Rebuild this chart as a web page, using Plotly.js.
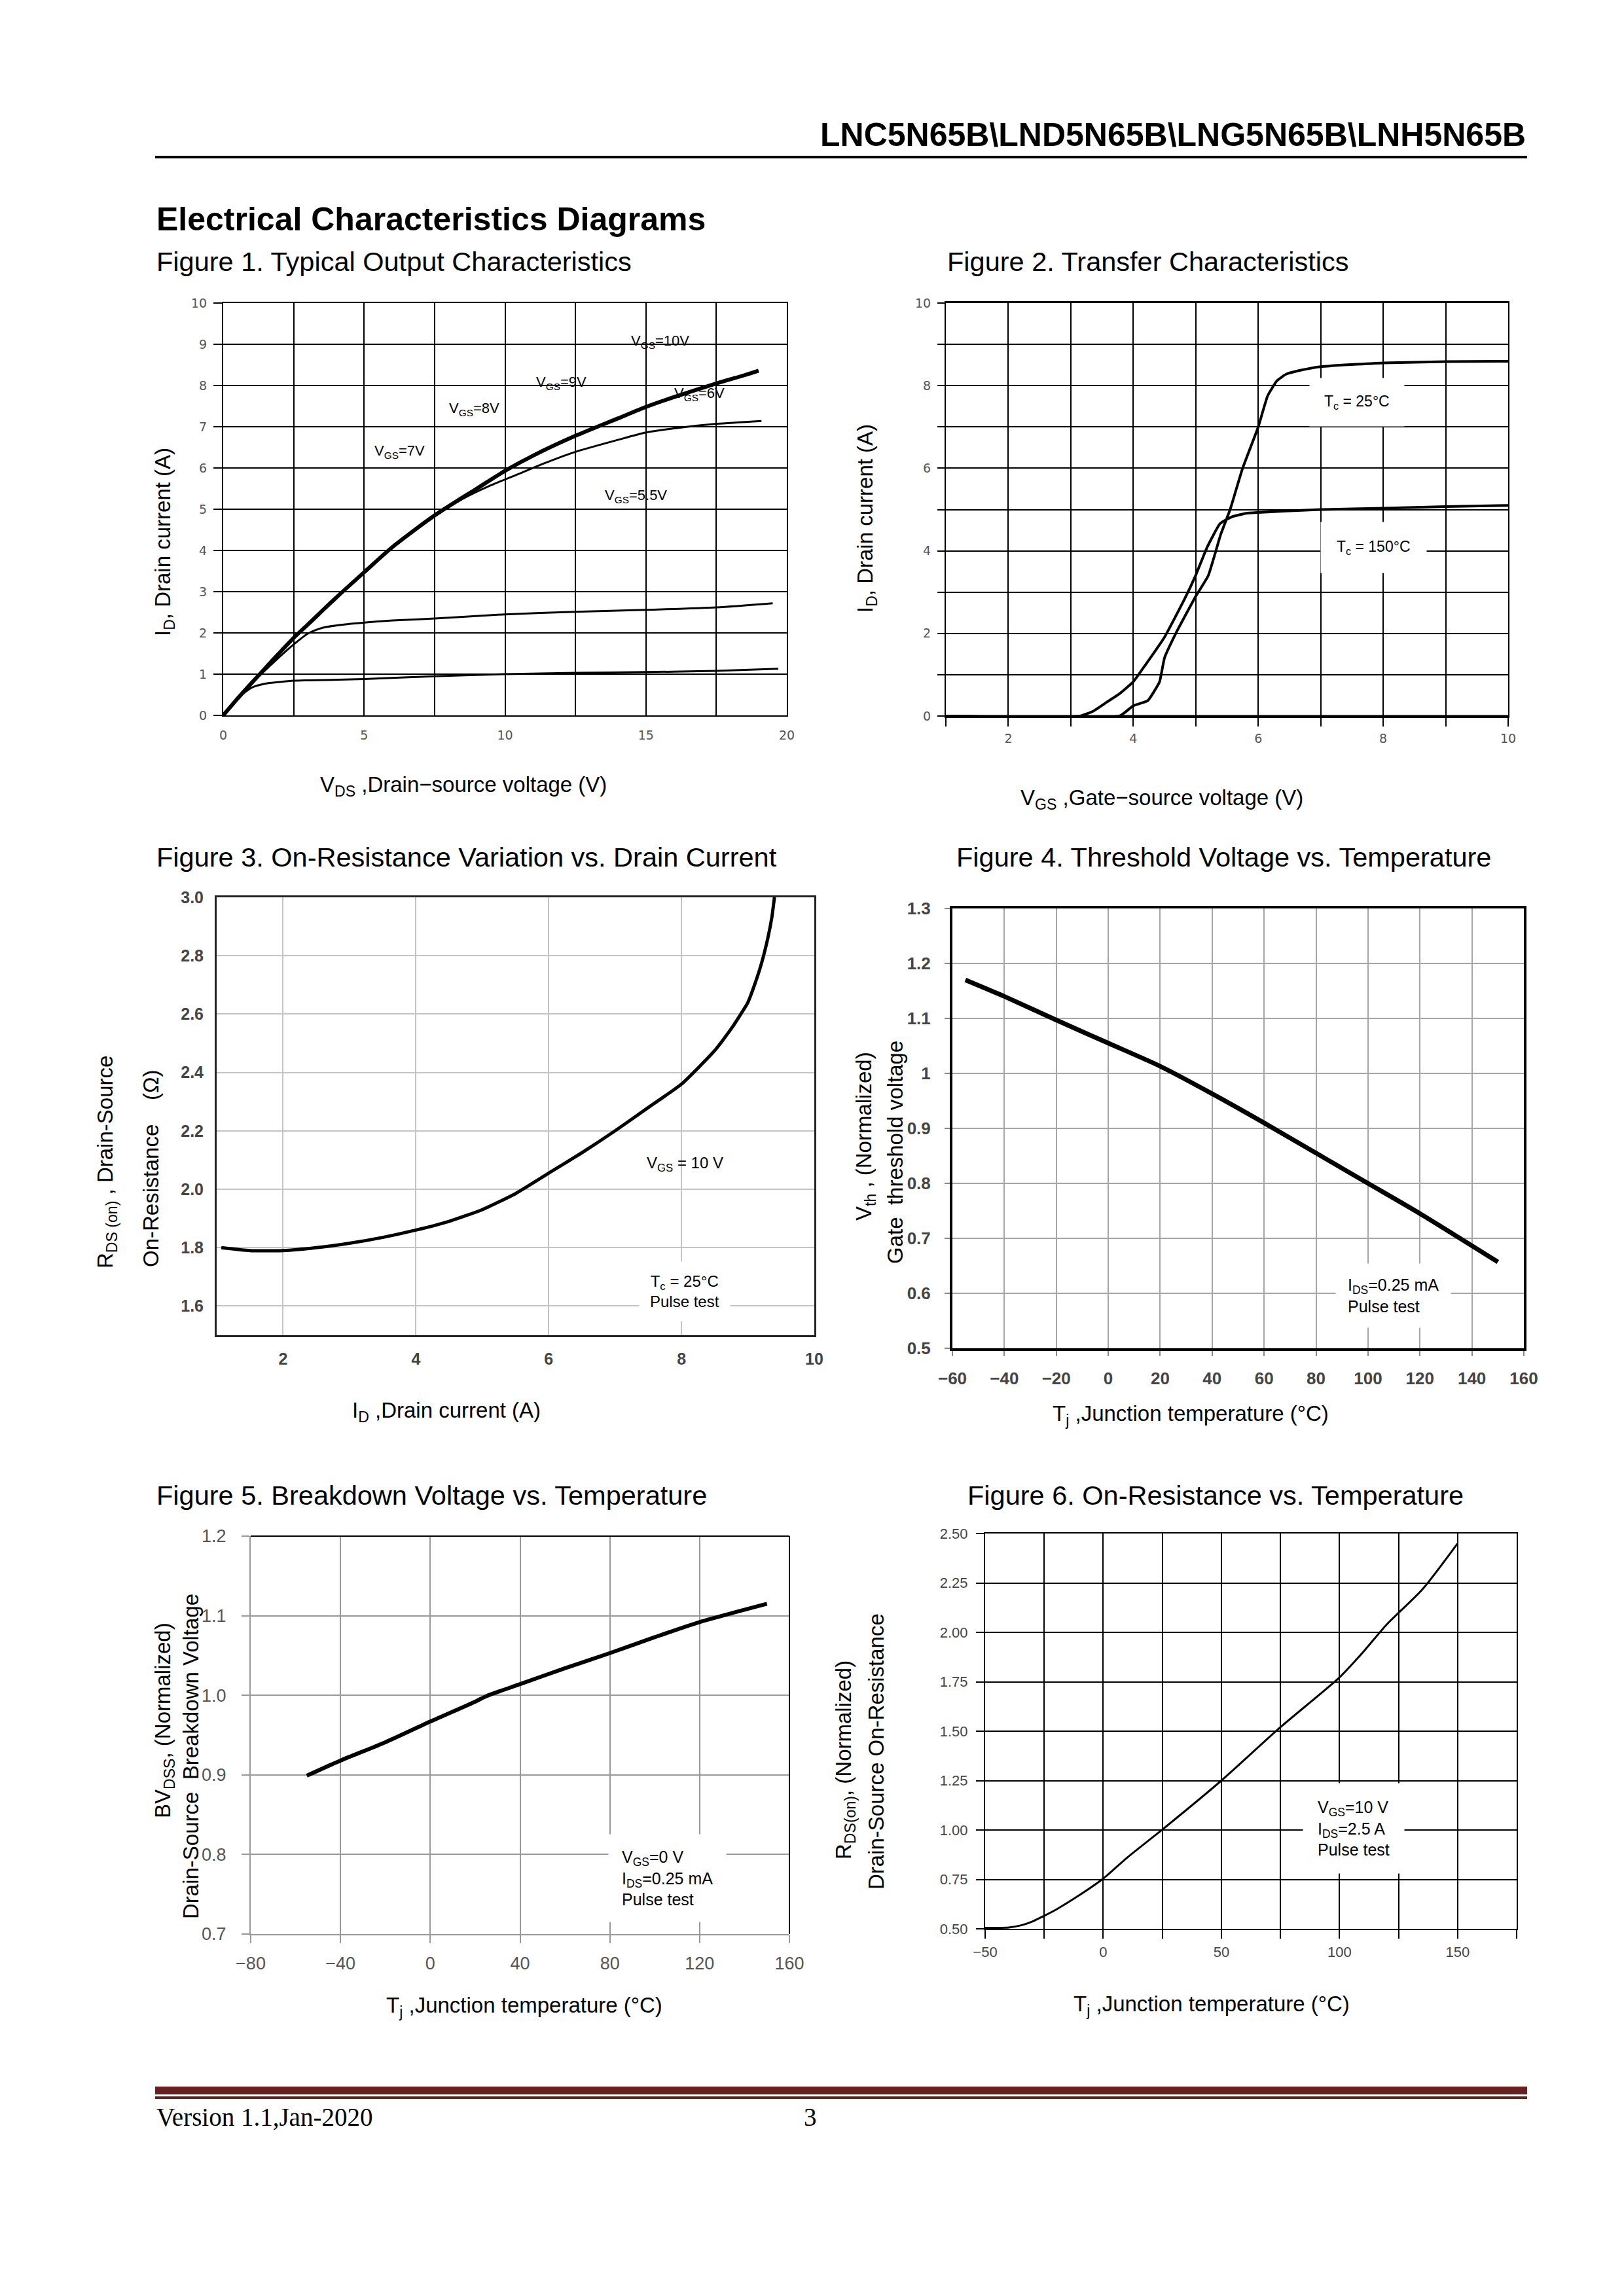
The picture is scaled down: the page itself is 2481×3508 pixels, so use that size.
<!DOCTYPE html>
<html>
<head>
<meta charset="utf-8">
<script src="https://cdn.plot.ly/plotly-3.0.1.min.js"></script>
<style>
html,body{margin:0;padding:0;background:#fff;}
#page{width:2481px;height:3508px;}
</style>
</head>
<body>
<div id="page"></div>
<script>
// ---------------- DATA ----------------
// Figure 1 : Typical output characteristics (V_DS vs I_D)
const f1VdsBundle = [0,0.5,1,1.5,2,2.5,3,4,5,6,7.5,9,10,11,12.5,14,15,16,17.5,18.5,19];
const f1IdBundle  = [0,0.4,0.78,1.15,1.52,1.88,2.2,2.85,3.47,4.08,4.85,5.5,5.93,6.3,6.78,7.2,7.48,7.72,8.05,8.25,8.36];
const f1VdsB = [0,0.5,1,1.5,2,2.5,3,4,5,6,7.5,8.5,9.5,10.5,11.5,12.5,14,15,16,17.5,19.1];
const f1IdB  = [0,0.4,0.78,1.15,1.52,1.88,2.2,2.85,3.47,4.07,4.82,5.25,5.58,5.86,6.14,6.39,6.68,6.86,6.96,7.07,7.14];
const f1VdsC = [0,0.5,1,1.5,2,2.5,3,3.5,4,5,6,7.5,10,12.5,15,17.5,19.5];
const f1IdC  = [0,0.4,0.78,1.1,1.42,1.72,1.98,2.12,2.18,2.25,2.3,2.35,2.45,2.51,2.56,2.62,2.72];
const f1VdsD = [0,0.25,0.5,0.75,1,1.5,2,2.5,3,5,7.5,10,12.5,15,17.5,19.7];
const f1IdD  = [0,0.2,0.4,0.55,0.67,0.77,0.81,0.84,0.85,0.88,0.95,1.0,1.03,1.05,1.08,1.13];
const f1Labels = ["V<sub>GS</sub>=10V","V<sub>GS</sub>=9V","V<sub>GS</sub>=8V","V<sub>GS</sub>=7V","V<sub>GS</sub>=6V","V<sub>GS</sub>=5.5V"];
const f1LabelX = [15.5,12.0,8.9,6.26,16.9,14.65];
const f1LabelY = [9.07,8.07,7.43,6.4,7.8,5.32];

// Figure 2 : Transfer characteristics
const f2Vgs25  = [1,3.78,4.0,4.23,4.42,4.5,4.68,5.0,5.2,5.4,5.55,5.75,6.0,6.15,6.3,6.45,6.7,7,8,9,10];
const f2Id25   = [0,0,0.25,0.37,0.83,1.41,2.0,2.9,3.4,4.4,5.0,6.0,7.0,7.75,8.12,8.28,8.38,8.46,8.55,8.58,8.59];
const f2Vgs150 = [1,3.15,3.36,3.57,3.78,4.0,4.2,4.5,4.82,5.0,5.18,5.39,5.59,5.81,6.0,7,8,9,10];
const f2Id150  = [0,0,0.12,0.33,0.54,0.83,1.25,1.91,2.83,3.41,4.08,4.66,4.83,4.91,4.93,5.0,5.03,5.07,5.1];

// Figure 3 : On-resistance vs drain current
const f3Id  = [1.07,1.5,2,2.5,3,3.5,4,4.5,5,5.5,6,6.5,7,7.5,8,8.5,8.75,9,9.1,9.2,9.3,9.36,9.4];
const f3Rds = [1.80,1.79,1.79,1.80,1.815,1.835,1.86,1.89,1.93,1.985,2.055,2.125,2.20,2.28,2.36,2.475,2.55,2.64,2.70,2.77,2.86,2.93,3.0];

// Figure 4 : Threshold voltage vs temperature
const f4Tj  = [-55,-40,-20,0,20,40,60,80,100,120,150];
const f4Vth = [1.170,1.140,1.097,1.055,1.013,0.963,0.910,0.855,0.80,0.745,0.657];

// Figure 5 : Breakdown voltage vs temperature
const f5Tj = [-55,-40,-20,0,20,25,40,60,80,100,120,150];
const f5Bv = [0.899,0.918,0.941,0.967,0.992,0.999,1.014,1.034,1.053,1.073,1.092,1.115];

// Figure 6 : On-resistance vs temperature
const f6Tj  = [-50,-40,-35,-30,-25,-20,-10,0,10,25,50,75,100,110,120,135,150];
const f6Rds = [0.505,0.507,0.517,0.537,0.566,0.597,0.671,0.754,0.859,1.002,1.25,1.52,1.772,1.90,2.04,2.216,2.45];

// ---------------- LAYOUT HELPERS ----------------
const W = 2481, H = 3508;
const FONT = "Liberation Sans, Arial, Helvetica, sans-serif";
const fx = v => v / W;
const fy = v => 1 - v / H;
const box = {
  1:{l:341,r:1202,t:463,b:1093},
  2:{l:1445,r:2304,t:463,b:1094},
  3:{l:331,r:1244,t:1371,b:2040},
  4:{l:1455,r:2328,t:1388,b:2060},
  5:{l:383,r:1206,t:2347,b:2955},
  6:{l:1505,r:2317,t:2343,b:2947}
};
const xd = n => [fx(box[n].l), fx(box[n].r)];
const yd = n => [fy(box[n].b), fy(box[n].t)];

function txt(text, x, y, size, o) {
  return Object.assign({text:text, x:fx(x), y:fy(y), xref:'paper', yref:'paper',
    xanchor:'center', yanchor:'middle', showarrow:false,
    font:{family:FONT, size:size, color:'#000'}}, o || {});
}
function dataTxt(n, text, x, y, size, o) {
  return Object.assign({text:text, x:x, y:y, xref:'x'+(n===1?'':n), yref:'y'+(n===1?'':n),
    xanchor:'center', yanchor:'middle', showarrow:false,
    font:{family:FONT, size:size, color:'#000'}}, o || {});
}

const line = (x, y, xa, ya, w, sm) => ({x:x, y:y, xaxis:xa, yaxis:ya, type:'scatter', mode:'lines', cliponaxis:true,
  line:(sm === 0 ? {color:'#000', width:w, shape:'linear'} : {color:'#000', width:w, shape:'spline', smoothing:(sm || 0.7)}),
  hoverinfo:'skip', showlegend:false});

const traces = [
  line(f1VdsBundle, f1IdBundle, 'x', 'y', 6),
  line(f1VdsB, f1IdB, 'x', 'y', 3),
  line(f1VdsC, f1IdC, 'x', 'y', 3),
  line(f1VdsD, f1IdD, 'x', 'y', 3),
  line(f2Vgs25, f2Id25, 'x2', 'y2', 4, 0.4),
  line(f2Vgs150, f2Id150, 'x2', 'y2', 4, 0.4),
  line(f3Id, f3Rds, 'x3', 'y3', 5, 0.5),
  line(f4Tj, f4Vth, 'x4', 'y4', 7),
  line(f5Tj, f5Bv, 'x5', 'y5', 6),
  line(f6Tj, f6Rds, 'x6', 'y6', 3)
];

function ax(n, o) {
  return Object.assign({domain:(o.isX ? xd(n) : yd(n)), anchor:(o.isX ? 'y' : 'x') + (n===1?'':n),
    zeroline:false, fixedrange:true, showgrid:true, automargin:false}, o.cfg);
}
const blackGrid = {gridcolor:'#000', gridwidth:2, showline:true, linecolor:'#000', linewidth:2, mirror:true};
const tf1 = {family:'DejaVu Sans, sans-serif', size:19, color:'#555'};

const layout = {
  width:W, height:H, margin:{l:0,r:0,t:0,b:0}, paper_bgcolor:'#fff', plot_bgcolor:'#fff',
  showlegend:false, hovermode:false,
  xaxis: ax(1,{isX:true, cfg:Object.assign({range:[0,20], tick0:0, dtick:5, ticks:'', tickfont:tf1, ticklabelstandoff:12,
      minor:{dtick:2.5, showgrid:true, gridcolor:'#000', gridwidth:2}}, blackGrid)}),
  yaxis: ax(1,{isX:false, cfg:Object.assign({range:[0,10], tick0:0, dtick:1, ticks:'outside', ticklen:13, tickwidth:2, tickcolor:'#000',
      tickfont:tf1, ticklabelstandoff:6}, blackGrid)}),
  xaxis2: ax(2,{isX:true, cfg:Object.assign({range:[1,10], tick0:0, dtick:2, ticks:'outside', ticklen:13, tickwidth:2, tickcolor:'#000',
      tickfont:tf1, ticklabelstandoff:2,
      minor:{dtick:1, showgrid:true, gridcolor:'#000', gridwidth:2, ticks:'outside', ticklen:13, tickwidth:2, tickcolor:'#000'}}, blackGrid, {linewidth:3})}),
  yaxis2: ax(2,{isX:false, cfg:Object.assign({range:[0,10], tick0:0, dtick:2, ticks:'outside', ticklen:11, tickwidth:2, tickcolor:'#000',
      tickfont:tf1, ticklabelstandoff:6,
      minor:{dtick:1, showgrid:true, gridcolor:'#000', gridwidth:2, ticks:'outside', ticklen:11, tickwidth:2, tickcolor:'#000'}}, blackGrid)}),
  xaxis3: ax(3,{isX:true, cfg:{range:[1,10], tick0:0, dtick:2, ticks:'', gridcolor:'#c4c4c4', gridwidth:2,
      showline:true, linecolor:'#222', linewidth:3, mirror:true,
      tickfont:{family:FONT, size:25, color:'#444', weight:'bold'}, ticklabelstandoff:12}}),
  yaxis3: ax(3,{isX:false, cfg:{range:[1.5,3.0], tick0:1.6, dtick:0.2, tickformat:'.1f', ticks:'', gridcolor:'#c4c4c4', gridwidth:2,
      showline:true, linecolor:'#222', linewidth:3, mirror:true,
      tickfont:{family:FONT, size:25, color:'#444', weight:'bold'}, ticklabelstandoff:12}}),
  xaxis4: ax(4,{isX:true, cfg:{range:[-60,160], tick0:0, dtick:20, ticks:'outside', ticklen:8, tickwidth:2, tickcolor:'#888',
      gridcolor:'#a6a6a6', gridwidth:2, showline:true, linecolor:'#000', linewidth:4, mirror:true,
      tickfont:{family:FONT, size:26, color:'#444', weight:'bold'}, ticklabelstandoff:12}}),
  yaxis4: ax(4,{isX:false, cfg:{range:[0.5,1.3], tick0:0.5, dtick:0.1, ticks:'outside', ticklen:8, tickwidth:2, tickcolor:'#888',
      gridcolor:'#a6a6a6', gridwidth:2, showline:true, linecolor:'#000', linewidth:4, mirror:true,
      tickfont:{family:FONT, size:26, color:'#444', weight:'bold'}, ticklabelstandoff:16}}),
  xaxis5: ax(5,{isX:true, cfg:{range:[-80,160], tick0:0, dtick:40, ticks:'outside', ticklen:12, tickwidth:2, tickcolor:'#999',
      gridcolor:'#999', gridwidth:2, showline:true, linecolor:'#999', linewidth:2,
      tickfont:{family:FONT, size:27, color:'#555'}, ticklabelstandoff:8}}),
  yaxis5: ax(5,{isX:false, cfg:{range:[0.7,1.2], tick0:0.7, dtick:0.1, tickformat:'.1f', ticks:'outside', ticklen:12, tickwidth:2, tickcolor:'#999',
      gridcolor:'#999', gridwidth:2, showline:true, linecolor:'#999', linewidth:2,
      tickfont:{family:FONT, size:27, color:'#555'}, ticklabelstandoff:18}}),
  xaxis6: ax(6,{isX:true, cfg:Object.assign({range:[-50,175], tick0:-50, dtick:50, ticks:'outside', ticklen:13, tickwidth:2, tickcolor:'#000',
      tickfont:{family:FONT, size:22, color:'#444'}, ticklabelstandoff:2,
      minor:{dtick:25, showgrid:true, gridcolor:'#000', gridwidth:2, ticks:'outside', ticklen:13, tickwidth:2, tickcolor:'#000'}}, blackGrid)}),
  yaxis6: ax(6,{isX:false, cfg:Object.assign({range:[0.5,2.5], tick0:0.5, dtick:0.25, tickformat:'.2f', ticks:'outside', ticklen:12, tickwidth:2, tickcolor:'#000',
      tickfont:{family:FONT, size:22, color:'#444'}, ticklabelstandoff:8}, blackGrid)}),
  shapes: [
    {type:'rect', xref:'paper', yref:'paper', x0:fx(237), x1:fx(2333), y0:fy(242), y1:fy(238), fillcolor:'#000', line:{width:0}},
    {type:'rect', xref:'paper', yref:'paper', x0:fx(237), x1:fx(2333), y0:fy(3200), y1:fy(3188), fillcolor:'#66201f', line:{width:0}},
    {type:'rect', xref:'paper', yref:'paper', x0:fx(237), x1:fx(2333), y0:fy(3207), y1:fy(3203), fillcolor:'#66201f', line:{width:0}},
    {type:'line', xref:'x5 domain', yref:'y5 domain', x0:0, x1:1, y0:1, y1:1, line:{color:'#000', width:2}},
    {type:'line', xref:'x5 domain', yref:'y5 domain', x0:1, x1:1, y0:0, y1:1, line:{color:'#000', width:2}},
    {type:'line', xref:'x2 domain', yref:'y2 domain', x0:0, x1:1, y0:0, y1:0, layer:'above', line:{color:'#000', width:3}}
  ],
  annotations: []
};

const A = layout.annotations;
// page texts
A.push(txt('LNC5N65B\\LND5N65B\\LNG5N65B\\LNH5N65B', 2333, 206, 50, {xanchor:'right', font:{family:FONT, size:50, color:'#000', weight:'bold'}}));
A.push(txt('Electrical Characteristics Diagrams', 237, 335, 50, {xanchor:'left', font:{family:FONT, size:50, color:'#000', weight:'bold'}}));
A.push(txt('Figure 1. Typical Output Characteristics', 237, 399, 41.5, {xanchor:'left'}));
A.push(txt('Figure 2. Transfer Characteristics', 1445, 399, 41.5, {xanchor:'left'}));
A.push(txt('Figure 3. On-Resistance Variation vs. Drain Current', 237, 1309, 41.5, {xanchor:'left'}));
A.push(txt('Figure 4. Threshold Voltage vs. Temperature', 1459, 1309, 41.5, {xanchor:'left'}));
A.push(txt('Figure 5. Breakdown Voltage vs. Temperature', 237, 2284, 41.5, {xanchor:'left'}));
A.push(txt('Figure 6. On-Resistance vs. Temperature', 1476, 2284, 41.5, {xanchor:'left'}));
A.push(txt('Version 1.1,Jan-2020', 237, 3234, 39, {xanchor:'left', font:{family:'Liberation Serif, Times New Roman, serif', size:39, color:'#000'}}));
A.push(txt('3', 1226, 3234, 39, {xanchor:'left', font:{family:'Liberation Serif, Times New Roman, serif', size:39, color:'#000'}}));

// axis titles
A.push(txt('V<sub>DS</sub> ,Drain\u2212source voltage (V)', 708, 1201, 33));
A.push(txt('I<sub>D</sub>, Drain current (A)', 251, 828, 33, {textangle:-90}));
A.push(txt('V<sub>GS</sub> ,Gate\u2212source voltage (V)', 1775, 1221, 33));
A.push(txt('I<sub>D</sub>, Drain current (A)', 1324, 792, 33, {textangle:-90}));
A.push(txt('I<sub>D</sub> ,Drain current (A)', 682, 2157, 33));
A.push(txt('R<sub>DS (on)</sub> , Drain-Source', 163, 1776, 33, {textangle:-90}));
A.push(txt('On-Resistance\u00a0\u00a0\u00a0\u00a0(\u03a9)', 230, 1785, 33, {textangle:-90}));
A.push(txt('T<sub>j</sub> ,Junction temperature (\u00b0C)', 1819, 2162, 33));
A.push(txt('V<sub>th</sub> , (Normalized)', 1322, 1736, 33, {textangle:-90}));
A.push(txt('Gate\u00a0 threshold voltage', 1367, 1761, 33, {textangle:-90}));
A.push(txt('T<sub>j</sub> ,Junction temperature (\u00b0C)', 801, 3066, 33));
A.push(txt('BV<sub>DSS</sub>, (Normalized)', 251, 2629, 33, {textangle:-90}));
A.push(txt('Drain-Source\u00a0 Breakdown Voltage', 291, 2684, 33, {textangle:-90}));
A.push(txt('T<sub>j</sub> ,Junction temperature (\u00b0C)', 1851, 3064, 33));
A.push(txt('R<sub>DS(on)</sub>, (Normalized)', 1291, 2689, 33, {textangle:-90}));
A.push(txt('Drain-Source On-Resistance', 1338, 2676, 33, {textangle:-90}));

// in-plot labels
for (let i = 0; i < f1Labels.length; i++) A.push(dataTxt(1, f1Labels[i], f1LabelX[i], f1LabelY[i], 22));
A.push(dataTxt(2, 'T<sub>c</sub> = 25\u00b0C', 7.58, 7.6, 23, {bgcolor:'#fff', borderpad:22}));
A.push(dataTxt(2, 'T<sub>c</sub> = 150\u00b0C', 7.85, 4.08, 23, {bgcolor:'#fff', borderpad:24}));
A.push(dataTxt(3, 'V<sub>GS</sub> = 10 V', 8.05, 2.086, 24));
A.push(dataTxt(3, 'T<sub>c</sub> = 25\u00b0C<br>Pulse test', 8.05, 1.65, 24, {bgcolor:'#fff', borderpad:16}));
A.push(dataTxt(4, 'I<sub>DS</sub>=0.25 mA<br>Pulse test', 109.6, 0.596, 25, {align:'left', bgcolor:'#fff', borderpad:18}));
A.push(dataTxt(5, 'V<sub>GS</sub>=0 V<br>I<sub>DS</sub>=0.25 mA<br>Pulse test', 105.7, 0.770, 25, {align:'left', bgcolor:'#fff', borderpad:20}));
A.push(dataTxt(6, 'V<sub>GS</sub>=10 V<br>I<sub>DS</sub>=2.5 A<br>Pulse test', 106, 1.007, 25, {align:'left', bgcolor:'#fff', borderpad:22}));

Plotly.newPlot('page', traces, layout, {staticPlot:true, displayModeBar:false});
</script>
</body>
</html>
